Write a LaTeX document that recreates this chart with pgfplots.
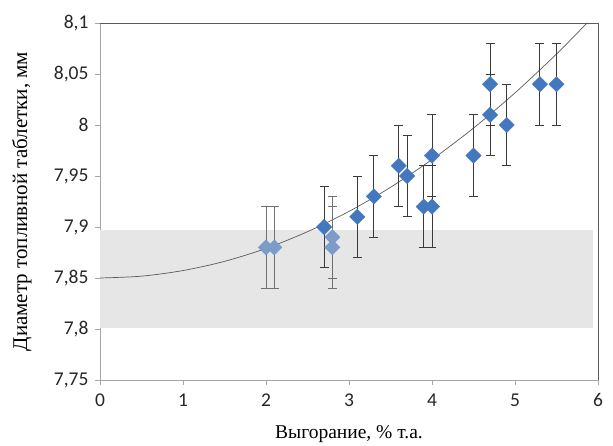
\documentclass[border=0pt]{standalone}
\usepackage{pgfplots}
\pgfplotsset{compat=1.18}
\usepackage{fontspec}
\setmainfont{Liberation Serif}
\newfontfamily\carlito{Carlito}
\definecolor{dblue}{HTML}{4478BE}
\definecolor{lblue}{HTML}{7B9CC8}
\definecolor{band}{HTML}{E6E6E6}
\definecolor{ebar}{HTML}{3A3A3A}
\definecolor{lebar}{HTML}{707070}
\definecolor{frame}{HTML}{5A5A5A}
\definecolor{axgray}{HTML}{A6A6A6}
\begin{document}
\begin{tikzpicture}
\useasboundingbox (-100pt,-65pt) rectangle (513pt,380pt);
\begin{axis}[
  at={(0,0)}, anchor=south west,
  scale only axis, width=498pt, height=357pt,
  xmin=0, xmax=6, ymin=7.75, ymax=8.1,
  axis x line*=bottom, axis y line*=left,
  axis line style={axgray, line width=0.6pt},
  xtick={0,1,2,3,4,5,6},
  ytick={7.75,7.8,7.85,7.9,7.95,8,8.05,8.1},
  yticklabels={{7,75},{7,8},{7,85},{7,9},{7,95},{8},{8,05},{8,1}},
  tick align=outside, major tick length=5pt,
  tick style={axgray, line width=0.6pt},
  /pgf/number format/assume math mode=true,
  ticklabel style={font=\fontsize{19.5}{19.5}\selectfont\carlito, text=black!85},
  xticklabel style={yshift=-5pt},
  yticklabel style={xshift=-3pt},
  xlabel={Выгорание, \% т.а.},
  ylabel={Диаметр топливной таблетки, мм},
  xlabel style={font=\fontsize{19.5}{19.5}\selectfont, at={(rel axis cs:0.5,0)}, anchor=base, yshift=-58pt},
  ylabel style={font=\fontsize{21}{21}\selectfont, at={(axis description cs:-0.157,0.5)}, anchor=center},
  clip=false,
]
% grey band
\addplot[fill=band, draw=none] coordinates {(0,7.801) (5.94,7.801) (5.94,7.897) (0,7.897)} -- cycle;
% trend curve
\addplot[frame, line width=0.7pt, smooth] coordinates {
(0,7.85) (0.5,7.8518) (1,7.8573) (1.5,7.8663) (2,7.8790) (2.5,7.8954) (3,7.9153) (3.5,7.9389) (4,7.9662) (4.5,7.9970) (5,8.0315) (5.5,8.0696) (5.87,8.1002)};
% light points
\addplot[only marks, mark=square*, mark size=5.4pt, mark options={rotate=45, fill=lblue, draw=lblue},
  error bars/.cd, y dir=both, y explicit, error bar style={lebar, line width=0.8pt},
  error mark options={rotate=90, mark size=4.5pt, lebar, line width=0.8pt}]
  coordinates {
  (2.0,7.88) +- (0,0.04)
  (2.1,7.88) +- (0,0.04)
  (2.8,7.89) +- (0,0.04)
  (2.8,7.88) +- (0,0.04)
  };
% dark points
\addplot[only marks, mark=square*, mark size=5.4pt, mark options={rotate=45, fill=dblue, draw=dblue},
  error bars/.cd, y dir=both, y explicit, error bar style={ebar, line width=0.8pt},
  error mark options={rotate=90, mark size=4.5pt, ebar, line width=0.8pt}]
  coordinates {
  (2.7,7.90) +- (0,0.04)
  (3.1,7.91) +- (0,0.04)
  (3.3,7.93) +- (0,0.04)
  (3.6,7.96) +- (0,0.04)
  (3.7,7.95) +- (0,0.04)
  (3.9,7.92) +- (0,0.04)
  (4.0,7.92) +- (0,0.04)
  (4.0,7.97) +- (0,0.04)
  (4.5,7.97) +- (0,0.04)
  (4.7,8.04) +- (0,0.04)
  (4.7,8.01) +- (0,0.04)
  (4.9,8.00) +- (0,0.04)
  (5.3,8.04) +- (0,0.04)
  (5.5,8.04) +- (0,0.04)
  };
\draw[frame, line width=0.7pt] (rel axis cs:0,1) -- (rel axis cs:1,1) -- (rel axis cs:1,0);
\end{axis}
\end{tikzpicture}
\end{document}
